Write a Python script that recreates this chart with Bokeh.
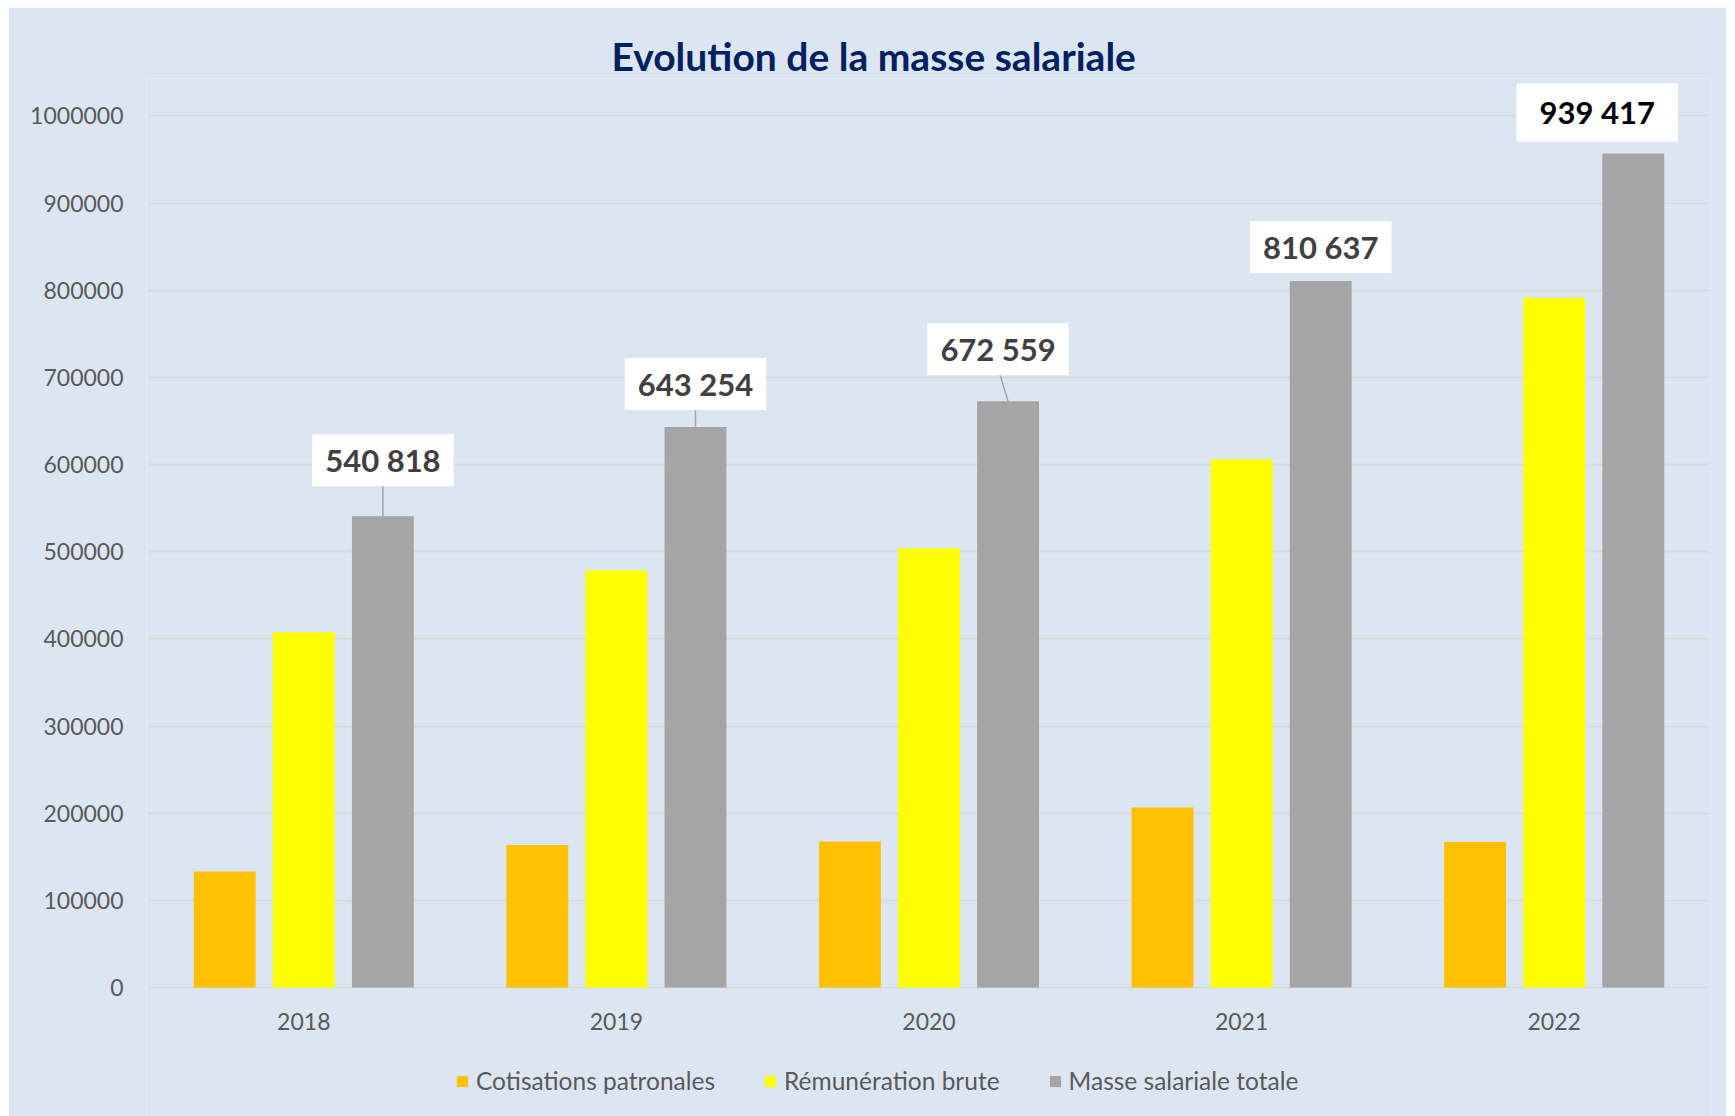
from bokeh.plotting import figure
from bokeh.models import (ColumnDataSource, FactorRange, Range1d, FixedTicker,
                          Legend, LegendItem, NumeralTickFormatter)
from bokeh.transform import dodge
from bokeh.core.properties import value
from bokeh.embed import file_html
from bokeh.resources import INLINE

# ---------------- data ----------------
years = ["2018", "2019", "2020", "2021", "2022"]
cotisations = [133000, 163500, 167500, 206500, 167000]
remuneration = [407700, 478800, 504100, 606000, 791400]
masse = [540818, 643254, 672559, 810637, 957000]
masse_labels = ["540 818", "643 254", "672 559", "810 637", "939 417"]
y_ticks = [0, 100000, 200000, 300000, 400000, 500000, 600000, 700000, 800000, 900000, 1000000]
series_names = ["Cotisations patronales", "Rémunération brute", "Masse salariale totale"]

# ---------------- style / layout ----------------
BG = "#DCE6F2"
COLORS = ["#FFC000", "#FFFF00", "#A5A5A5"]
FONT = "Lato"
TOP, LEFT, RIGHT = 71, 139, 16
FW = 1563
PLOT_H = 909                   # pixels from value 0 to Y_END
BELOW_H = 129                  # room under the zero line (year labels + legend)
Y_END = 1043000
ppu = PLOT_H / Y_END           # pixels per data unit
Y_START = -BELOW_H / ppu
cat_px = FW / len(years)
OFF, BW = 0.253, 0.198

# label box offsets (pixels, relative to the top of the grey bar)
lab_dx = [0, 0, -10, 0, -36]
lab_up = [56, 43, 52, 34, 41]
box_half = 25.5

src = ColumnDataSource(dict(year=years, cot=cotisations, rem=remuneration, tot=masse))

p = figure(x_range=FactorRange(factors=years), y_range=Range1d(Y_START, Y_END),
           frame_width=FW, frame_height=PLOT_H + BELOW_H,
           output_backend="svg", toolbar_location=None, x_axis_location=None,
           min_border_left=LEFT, min_border_right=RIGHT,
           min_border_top=TOP, min_border_bottom=0,
           background_fill_color=BG, border_fill_color=BG,
           outline_line_color=None, title="Evolution de la masse salariale",
           margin=(7, 0, 0, 8))

p.title.text_font = FONT
p.title.text_font_size = "39px"
p.title.text_font_style = "bold"
p.title.text_color = "#002060"
p.title.align = "left"
p.title.offset = 464
p.title.standoff = 0

# gridlines (only on the value ticks)
p.xgrid.grid_line_color = None
p.ygrid.grid_line_color = "#D9D9D9"
p.ygrid.grid_line_width = 2
p.ygrid.ticker = FixedTicker(ticks=y_ticks)

# bars
rs = []
for col, off, c in zip(["cot", "rem", "tot"], [-OFF, 0, OFF], COLORS):
    r = p.vbar(x=dodge("year", off, range=p.x_range), top=col, width=BW,
               source=src, fill_color=c, line_color=None)
    rs.append(r)

# category labels under the zero line
p.text(x="year", y=0, text="year", source=src, y_offset=34,
       text_align="center", text_baseline="middle",
       text_font=value(FONT), text_font_size="23px", text_color="#595959")

# leader lines (synthetic categorical coordinates)
lead_idx = [0, 1, 2]
lead_src = ColumnDataSource(dict(
    x0=[i + 0.5 + OFF + lab_dx[i] * 0.8 / cat_px for i in lead_idx],
    x1=[i + 0.5 + OFF for i in lead_idx],
    y0=[masse[i] + (lab_up[i] - box_half) / ppu for i in lead_idx],
    y1=[masse[i] for i in lead_idx],
))
p.segment(x0="x0", y0="y0", x1="x1", y1="y1", source=lead_src,
          line_color="#A6A6A6", line_width=1.5)

# data labels with white boxes
lab_src = ColumnDataSource(dict(
    year=years[:4], tot=masse[:4], txt=masse_labels[:4],
    dx=lab_dx[:4], dy=[-u for u in lab_up[:4]]))
p.text(x=dodge("year", OFF, range=p.x_range), y="tot", text="txt", source=lab_src,
       x_offset="dx", y_offset="dy", text_align="center", text_baseline="middle",
       text_font=value(FONT), text_font_size="31px", text_font_style="bold",
       text_color="#404040", background_fill_color="white",
       padding=dict(x=13, y=7))
lab_src2 = ColumnDataSource(dict(
    year=years[4:], tot=masse[4:], txt=masse_labels[4:],
    dx=lab_dx[4:], dy=[-u for u in lab_up[4:]]))
p.text(x=dodge("year", OFF, range=p.x_range), y="tot", text="txt", source=lab_src2,
       x_offset="dx", y_offset="dy", text_align="center", text_baseline="middle",
       text_font=value(FONT), text_font_size="31px", text_font_style="bold",
       text_color="#000000", background_fill_color="white",
       padding=dict(x=23, y=10))

# value axis
p.yaxis.ticker = FixedTicker(ticks=y_ticks)
p.yaxis.formatter = NumeralTickFormatter(format="0")
p.yaxis.axis_line_color = None
p.yaxis.major_tick_line_color = None
p.yaxis.minor_tick_line_color = None
p.yaxis.major_label_standoff = 18
p.yaxis.major_label_text_font = FONT
p.yaxis.major_label_text_font_size = "23px"
p.yaxis.major_label_text_color = "#595959"

# legend at the bottom of the chart area
legend = Legend(items=[LegendItem(label=n, renderers=[r]) for n, r in zip(series_names, rs)],
                orientation="horizontal", location=(308, 21),
                glyph_width=14, glyph_height=14, label_standoff=7, spacing=48,
                label_text_font=FONT, label_text_font_size="24.5px",
                label_text_color="#595959", background_fill_alpha=0,
                border_line_color=None, margin=0, padding=5)
p.add_layout(legend, "center")

open("out.html", "w").write(file_html(p, INLINE))
